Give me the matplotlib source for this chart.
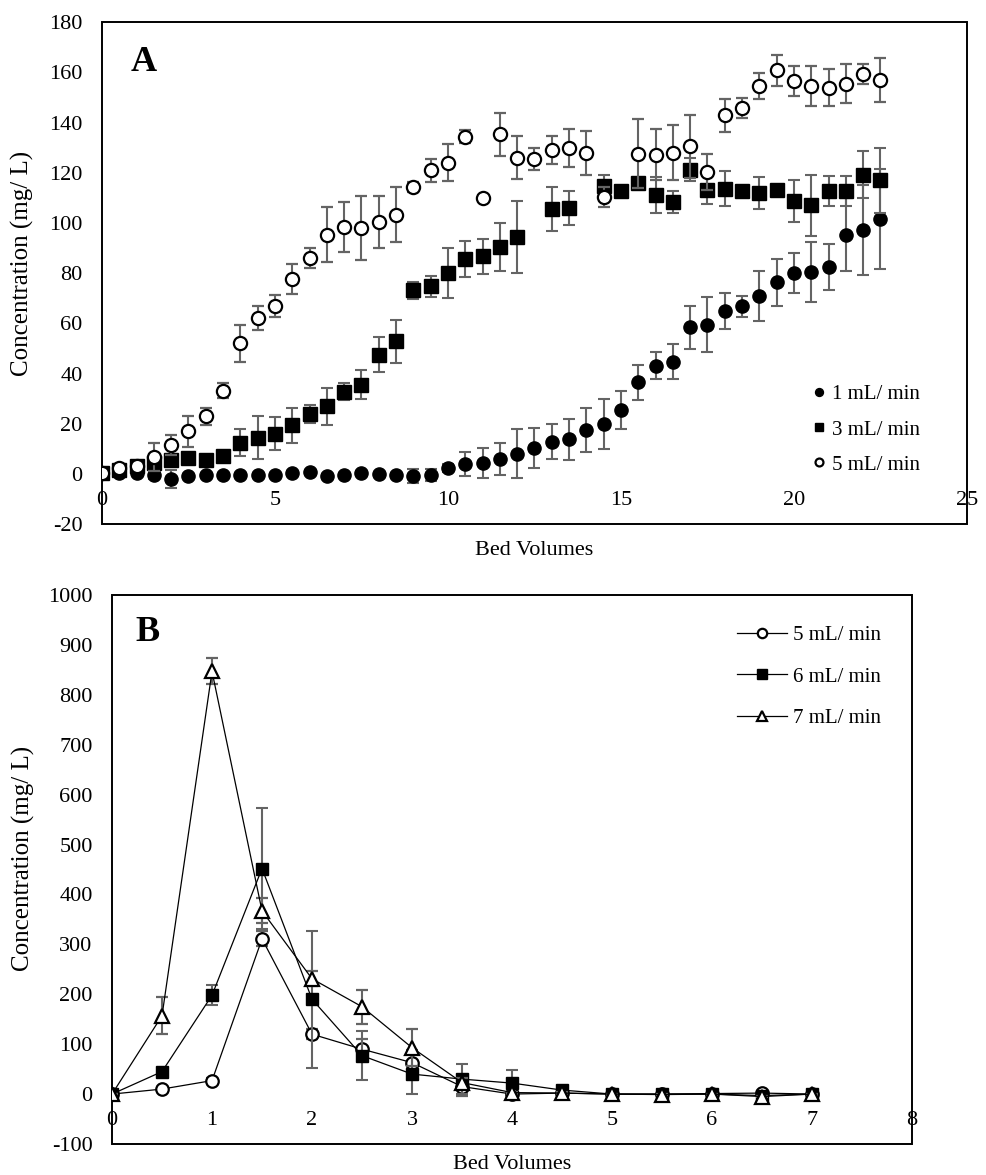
import numpy as np
import matplotlib
matplotlib.use('Agg')
import matplotlib.pyplot as plt
from matplotlib.transforms import offset_copy

plt.rcParams['font.family'] = ['Liberation Serif', 'DejaVu Serif']
plt.rcParams['axes.unicode_minus'] = False

# ---- Panel A data: breakthrough curves
bv_a = [0, 0.5, 1, 1.5, 2, 2.5, 3, 3.5, 4, 4.5, 5, 5.5, 6, 6.5, 7, 7.5, 8, 8.5,
        9, 9.5, 10, 10.5, 11, 11.5, 12, 12.5, 13, 13.5, 14, 14.5, 15, 15.5,
        16, 16.5, 17, 17.5, 18, 18.5, 19, 19.5, 20, 20.5, 21, 21.5, 22, 22.5]

conc_1 = [0.3, 0.2, 0.3, -0.5, -2.2, -1.0, -0.4, -0.4, -0.6, -0.6, -0.4, 0.2,
          0.6, -1.0, -0.3, 0.2, -0.1, -0.3, -0.8, -0.5, 2.3, 3.9, 4.3, 5.9,
          8.0, 10.4, 12.9, 13.8, 17.6, 19.9, 25.3, 36.6, 43.2, 44.7, 58.5,
          59.5, 64.8, 66.8, 70.8, 76.3, 80.1, 80.5, 82.3, 95.4, 97.1, 101.6]
err_1 = [0, 0, 0, 1.5, 3.6, 0.8, 0.5, 0.5, 0.5, 0.5, 0.5, 0.8, 0.8, 0.8, 0.5,
         0.5, 0.5, 0.5, 2.7, 2.3, 1.5, 4.7, 6.0, 6.4, 9.7, 8.0, 7.0, 8.1, 8.8,
         10.0, 7.6, 7.0, 5.4, 7.0, 8.6, 10.9, 7.2, 4.3, 10.0, 9.5, 8.0, 12.0,
         9.2, 14.5, 18.0, 20.0]

conc_3 = [0.5, 1.5, 3.0, 4.5, 5.6, 6.5, 5.6, 7.3, 12.5, 14.5, 16.0, 19.3, 23.8,
          26.9, 32.8, 35.5, 47.5, 52.8, 73.1, 74.7, 80.1, 85.7, 86.7, 90.5,
          94.4, np.nan, 105.6, 106.0, np.nan, 114.7, 112.7, 116.0, 111.0, 108.3,
          121.3, 113.3, 113.7, 112.9, 112.0, 113.3, 108.9, 107.1, 112.9, 112.6,
          119.3, 117.0]
err_3 = [0.5, 0.5, 1, 1.5, 1.5, 1.5, 1.5, 1.5, 5.5, 8.6, 6.6, 7.0, 3.6, 7.5,
         3.3, 5.8, 7.0, 8.5, 3.5, 4.0, 10.0, 7.2, 7.0, 9.6, 14.3, 0, 8.8, 6.9,
         0, 4.3, 1.0, 1.0, 7.2, 4.3, 4.7, 5.8, 7.0, 1.0, 6.4, 1.0, 8.3, 12.2,
         6.0, 6.0, 9.3, 12.9]

conc_5 = [0.5, 2.3, 3.2, 6.7, 11.6, 16.9, 22.9, 33.2, 52.1, 62.1, 67.0, 77.7,
          86.1, 95.4, 98.4, 98.0, 100.4, 103.3, 114.4, 121.0, 124.0, 134.4,
          110.0, 135.3, 126.0, 125.6, 129.0, 130.0, 128.0, 110.4, np.nan, 127.7,
          127.3, 128.0, 130.6, 120.4, 142.9, 145.9, 154.6, 160.8, 156.6, 154.6,
          153.9, 155.6, 159.5, 157.0]
err_5 = [0.8, 1, 1, 5.5, 4, 6.1, 3.5, 3.1, 7.4, 4.7, 4.3, 6.0, 4.1, 10.9, 10.0,
         12.8, 10.2, 11.0, 2, 4.7, 7.3, 2.7, 0, 8.5, 8.5, 4.3, 5.5, 7.6, 8.8,
         4.0, 0, 13.8, 10.0, 11.0, 12.6, 7.3, 6.5, 4.0, 5.2, 6.3, 5.9, 7.8,
         7.4, 7.6, 3.9, 8.6]

labels_a = ['1 mL/ min', '3 mL/ min', '5 mL/ min']
xticks_a = [0, 5, 10, 15, 20, 25]
yticks_a = [-20, 0, 20, 40, 60, 80, 100, 120, 140, 160, 180]

# ---- Panel B data: elution curves
bv_b = [0, 0.5, 1, 1.5, 2, 2.5, 3, 3.5, 4, 4.5, 5, 5.5, 6, 6.5, 7]
conc_b5 = [0, 10, 27, 311, 120, 90, 63, 15, 0, 2, 0, 0, 1, 2, 0]
err_b5 = [0, 3, 5, 15, 10, 20, 25, 18, 2, 2, 1, 1, 1, 1, 1]
conc_b6 = [0, 45, 198, 452, 190, 77, 40, 30, 22, 8, 0, 0, 0, -3, 0]
err_b6 = [0, 5, 20, 122, 137, 49, 40, 30, 26, 3, 1, 1, 1, 1, 1]
conc_b7 = [0, 157, 847, 367, 231, 175, 93, 23, 3, 2, 0, -1, 0, -5, 0]
err_b7 = [0, 37, 26, 25, 15, 34, 37, 10, 2, 2, 1, 1, 1, 1, 1]

labels_b = ['5 mL/ min', '6 mL/ min', '7 mL/ min']
xticks_b = [0, 1, 2, 3, 4, 5, 6, 7, 8]
yticks_b = [-100, 0, 100, 200, 300, 400, 500, 600, 700, 800, 900, 1000]

ERR_COL = '#646464'
TICK_FS = 16


def frame_axes(ax, xticks, yticks, xlim, ylim):
    # Excel style: boxed plot area, x labels sitting under the zero line
    ax.set_xlim(*xlim)
    ax.set_ylim(*ylim)
    for s in ax.spines.values():
        s.set_visible(False)
    ax.patch.set_edgecolor('black')
    ax.patch.set_linewidth(1.4)
    ax.set_yticks(yticks)
    ax.set_xticks([])
    ax.tick_params(axis='y', length=0, pad=14, labelsize=TICK_FS)
    trans = offset_copy(ax.transData, fig=ax.figure, x=0, y=-12, units='points')
    for t in xticks:
        ax.text(t, 0, str(t), transform=trans, ha='center', va='top',
                fontsize=TICK_FS)


fig = plt.figure(figsize=(9.86, 11.75), dpi=100)

# ---------------- Panel A
axA = fig.add_axes([0.1034, 0.554, 0.8773, 0.4270])
frame_axes(axA, xticks_a, yticks_a, (0, 25), (-20, 180))

ekw = dict(ecolor=ERR_COL, elinewidth=1.5, capsize=4.5, capthick=1.5,
           linestyle='none')
axA.errorbar(bv_a, conc_1, yerr=err_1, fmt='o', ms=9.5, mfc='black',
             mec='black', label=labels_a[0], zorder=3, **ekw)
axA.errorbar(bv_a, conc_3, yerr=err_3, fmt='s', ms=10, mfc='black',
             mec='black', label=labels_a[1], zorder=4, **ekw)
axA.errorbar(bv_a, conc_5, yerr=err_5, fmt='o', ms=9.5, mfc='white',
             mec='black', mew=1.6, label=labels_a[2], zorder=5, **ekw)

hA, lA = axA.get_legend_handles_labels()
hA = [h[0] for h in hA]
axA.legend(hA, lA, loc='center left', bbox_to_anchor=(0.822, 0.188),
           frameon=False, fontsize=15, markerscale=0.6, handlelength=0.6,
           handletextpad=0.3, labelspacing=0.75, borderpad=0, borderaxespad=0)

axA.text(1.2, 164, 'A', fontsize=26, fontweight='bold', ha='center',
         va='center')
axA.set_ylabel('Concentration (mg/ L)', fontsize=18)
axA.yaxis.set_label_coords(-0.078, 0.52)
axA.set_xlabel('Bed Volumes', fontsize=16)
axA.xaxis.set_label_coords(0.5, -0.034)

# ---------------- Panel B
axB = fig.add_axes([0.1136, 0.0264, 0.8114, 0.4672])
frame_axes(axB, xticks_b, yticks_b, (0, 8), (-100, 1000))

lkw = dict(color='black', lw=0.9, ecolor=ERR_COL, elinewidth=1.5,
           capsize=4.5, capthick=1.5)
axB.errorbar(bv_b, conc_b5, yerr=err_b5, marker='o', ms=9, mfc='white',
             mec='black', mew=1.6, label=labels_b[0], zorder=3, **lkw)
axB.errorbar(bv_b, conc_b6, yerr=err_b6, marker='s', ms=9, mfc='black',
             mec='black', label=labels_b[1], zorder=4, **lkw)
axB.errorbar(bv_b, conc_b7, yerr=err_b7, marker='^', ms=10, mfc='white',
             mec='black', mew=1.6, label=labels_b[2], zorder=5, **lkw)

hB, lB = axB.get_legend_handles_labels()
hB = [h[0] for h in hB]
axB.legend(hB, lB, loc='center left', bbox_to_anchor=(0.781, 0.851),
           frameon=False, fontsize=15, markerscale=0.75, handlelength=2.4,
           handletextpad=0.3, labelspacing=1.06, borderpad=0, borderaxespad=0)

axB.text(0.35, 924, 'B', fontsize=26, fontweight='bold', ha='center',
         va='center')
axB.set_ylabel('Concentration (mg/ L)', fontsize=18)
axB.yaxis.set_label_coords(-0.096, 0.52)
axB.set_xlabel('Bed Volumes', fontsize=16)
axB.xaxis.set_label_coords(0.5, -0.02)

fig.savefig('out.png', dpi=100)
